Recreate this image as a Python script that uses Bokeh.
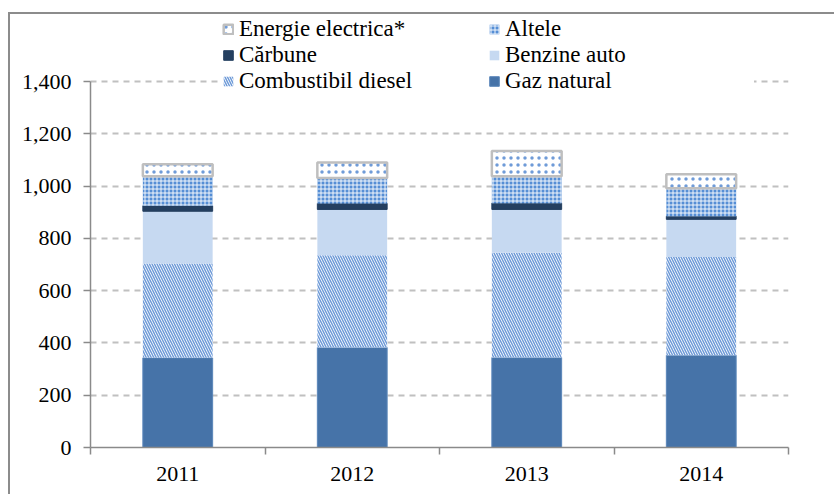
from bokeh.plotting import figure
from bokeh.models import (Range1d, FixedTicker, NumeralTickFormatter, Legend,
                          LegendItem, ColumnDataSource)
from bokeh.embed import file_html
from bokeh.resources import INLINE
from bokeh.transform import stack

# ---- data ----
years = ["2011", "2012", "2013", "2014"]
gaz_natural = [343, 383, 344, 353]
combustibil_diesel = [361, 353, 401, 376]
benzine_auto = [200, 175, 166, 144]
carbune = [21, 23, 24, 12]
altele = [113, 97, 103, 107]
energie_electrica = [46, 60, 97, 54]
y_ticks = [0, 200, 400, 600, 800, 1000, 1200, 1400]

FONT = "Liberation Serif"
FS = "22px"
LEG_FS = "23px"

xs = list(range(1, len(years) + 1))
source = ColumnDataSource(dict(
    x=xs, gaz=gaz_natural, diesel=combustibil_diesel, benzine=benzine_auto,
    carbune=carbune, altele=altele, energie=energie_electrica))

p = figure(width=826, height=482, output_backend="svg", toolbar_location=None,
           x_range=Range1d(0.5, len(years) + 0.5), y_range=Range1d(0, 1657),
           min_border_left=80, min_border_right=48, min_border_top=0,
           min_border_bottom=49, outline_line_color=None,
           background_fill_color="white", border_fill_color="white")
p.margin = (12, 0, 0, 8)
p.styles = {"border-top": "2px solid #8c8c8c", "border-left": "2px solid #8c8c8c"}

series = [
    ("Gaz natural", "gaz", dict(fill_color="#4673a8", line_color="#5a86ba", line_width=1)),
    ("Combustibil diesel", "diesel", dict(fill_color="white", line_color=None,
                                          hatch_pattern="left_diagonal_line", hatch_color="#6f9bd8",
                                          hatch_scale=5, hatch_weight=1.5)),
    ("Benzine auto", "benzine", dict(fill_color="#c6d9f1", line_color=None)),
    ("Cărbune", "carbune", dict(fill_color="#243f60", line_color="#243f60", line_width=1)),
    ("Altele", "altele", dict(fill_color="#558ed5", line_color=None,
                              hatch_pattern="cross", hatch_color="white",
                              hatch_scale=4, hatch_weight=0.9)),
    ("Energie electrica*", "energie", dict(fill_color="white", line_color="#bfbfbf", line_width=2.5,
                                          hatch_pattern="dot", hatch_color="#6f9bd8",
                                          hatch_scale=7, hatch_weight=0.6)),
]

keys = [s[1] for s in series]
rends = {}
for i, (label, key, style) in enumerate(series):
    bottom = stack(*keys[:i]) if i > 0 else 0
    r = p.vbar(x="x", width=0.4, bottom=bottom, top=stack(*keys[:i + 1]),
               source=source, **style)
    rends[label] = r

# ---- axes ----
axis_col = "#8a8a8a"
p.yaxis.ticker = FixedTicker(ticks=y_ticks)
p.yaxis.bounds = (y_ticks[0], y_ticks[-1])
p.yaxis.formatter = NumeralTickFormatter(format="0,0")
p.yaxis.axis_line_color = axis_col
p.yaxis.axis_line_width = 1.5
p.yaxis.major_tick_line_color = axis_col
p.yaxis.major_tick_line_width = 1.5
p.yaxis.major_tick_out = 7
p.yaxis.major_tick_in = 0
p.yaxis.minor_tick_line_color = None
p.yaxis.major_label_standoff = 12

p.xaxis.ticker = FixedTicker(ticks=xs, minor_ticks=[x - 0.5 for x in xs] + [xs[-1] + 0.5])
p.xaxis.major_label_overrides = {x: y for x, y in zip(xs, years)}
p.xaxis.axis_line_color = axis_col
p.xaxis.axis_line_width = 1.5
p.xaxis.major_tick_line_color = None
p.xaxis.major_tick_out = 0
p.xaxis.major_tick_in = 0
p.xaxis.minor_tick_line_color = axis_col
p.xaxis.minor_tick_line_width = 1.5
p.xaxis.minor_tick_out = 7
p.xaxis.minor_tick_in = 0
p.xaxis.major_label_standoff = 12

for ax in (p.xaxis[0], p.yaxis[0]):
    ax.major_label_text_font = FONT
    ax.major_label_text_font_size = FS
    ax.major_label_text_color = "black"

p.xgrid.grid_line_color = None
p.ygrid.grid_line_color = "#c0c0c0"
p.ygrid.grid_line_width = 2
p.ygrid.grid_line_dash = "6 5"

# ---- legend ----
order = ["Energie electrica*", "Cărbune", "Combustibil diesel",
         "Altele", "Benzine auto", "Gaz natural"]
legend = Legend(items=[LegendItem(label=l, renderers=[rends[l]]) for l in order],
                orientation="vertical", nrows=3,
                location=(132, 353), padding=4, spacing=-6, margin=0,
                glyph_width=12, glyph_height=12, label_standoff=5,
                label_width=249, label_height=18,
                border_line_color=None, background_fill_color="white",
                background_fill_alpha=1.0)
legend.label_text_font = FONT
legend.label_text_font_size = LEG_FS
legend.label_text_color = "black"
p.add_layout(legend, "center")

open("out.html", "w").write(file_html(p, INLINE))
